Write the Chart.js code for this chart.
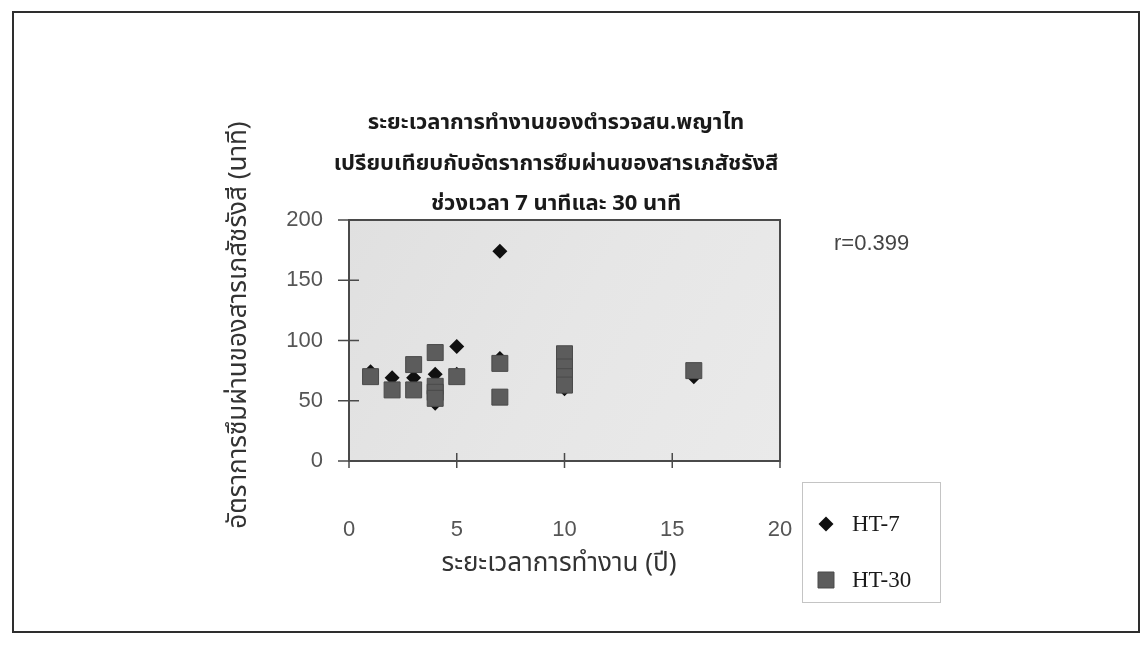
<!DOCTYPE html>
<html><head><meta charset="utf-8">
<script src="https://cdn.jsdelivr.net/npm/chart.js@4.4.1/dist/chart.umd.min.js"></script>
<style>html,body{margin:0;padding:0;background:#fff;overflow:hidden}canvas{display:block}</style>
</head><body>
<canvas id="c" width="1143" height="647"></canvas>
<script>
// Chart text
const titleLines = [
  'ระยะเวลาการทำงานของตำรวจสน.พญาไท',
  'เปรียบเทียบกับอัตราการซึมผ่านของสารเภสัชรังสี',
  'ช่วงเวลา 7 นาทีและ 30 นาที'
];
const xTitle = 'ระยะเวลาการทำงาน (ปี)';
const yTitle = 'อัตราการซึมผ่านของสารเภสัชรังสี (นาที)';
const rLabel = 'r=0.399';
const seriesNames = ['HT-7', 'HT-30'];

// Years of service vs. transit time (minutes)
const ht7Years   = [1, 2, 3, 4, 4, 5, 5, 7, 7, 10, 16];
const ht7Minutes = [74, 69, 69, 72, 48, 95, 72, 174, 85, 60, 70];
const ht30Years   = [1, 2, 3, 3, 4, 4, 4, 4, 5, 7, 7, 10, 10, 10, 10, 16];
const ht30Minutes = [70, 59, 80, 59, 90, 62, 57, 52, 70, 81, 53, 89, 78, 70, 63, 75];

// Axis ticks
const xTicks = [0, 5, 10, 15, 20];
const yTicks = [0, 50, 100, 150, 200];

const THAI = '"Noto Sans Thai", "Noto Serif Thai", "Garuda", "Loma", "Norasi", "Tlwg Typo", "DejaVu Sans", "Noto Sans", sans-serif';
const SANS = '"Liberation Sans", Arial, sans-serif';
const SERIF = '"Liberation Serif", "Times New Roman", serif';

const toPoints = (xs, ys) => xs.map((x, i) => ({ x, y: ys[i] }));

function marker(ctx, ds, x, y) {
  ctx.save();
  ctx.fillStyle = ds.backgroundColor;
  ctx.strokeStyle = ds.borderColor;
  ctx.lineWidth = ds.borderWidth;
  ctx.beginPath();
  const r = ds.pointRadius;
  if (ds.pointStyle === 'rectRot') {
    ctx.moveTo(x - r, y); ctx.lineTo(x, y - r); ctx.lineTo(x + r, y); ctx.lineTo(x, y + r);
  } else {
    const h = r * Math.SQRT1_2;
    ctx.rect(x - h, y - h, 2 * h, 2 * h);
  }
  ctx.closePath();
  ctx.fill();
  if (ds.borderWidth) ctx.stroke();
  ctx.restore();
}

const decor = {
  id: 'decor',
  beforeDraw(chart) {
    const { ctx, width, height } = chart;
    ctx.save();
    ctx.fillStyle = '#ffffff';
    ctx.fillRect(0, 0, width, height);
    ctx.strokeStyle = '#2e2e2e';
    ctx.lineWidth = 2;
    ctx.strokeRect(13, 12, 1126, 620);
    ctx.restore();
  },
  beforeDatasetsDraw(chart) {
    const { ctx, chartArea: a, scales } = chart;
    ctx.save();
    const g = ctx.createLinearGradient(a.left, a.top, a.right, a.bottom);
    g.addColorStop(0, '#e0e0e0');
    g.addColorStop(0.5, '#e6e6e6');
    g.addColorStop(1, '#eaeaea');
    ctx.fillStyle = g;
    ctx.fillRect(a.left, a.top, a.right - a.left, a.bottom - a.top);
    ctx.strokeStyle = '#4a4a4a';
    ctx.lineWidth = 2;
    ctx.strokeRect(a.left, a.top, a.right - a.left, a.bottom - a.top);
    ctx.lineWidth = 1.5;
    ctx.beginPath();
    scales.y.ticks.forEach(t => {
      const py = scales.y.getPixelForValue(t.value);
      ctx.moveTo(a.left - 11, py); ctx.lineTo(a.left + 10, py);
    });
    scales.x.ticks.forEach(t => {
      const px = scales.x.getPixelForValue(t.value);
      ctx.moveTo(px, a.bottom - 8); ctx.lineTo(px, a.bottom + 7);
    });
    ctx.stroke();
    ctx.restore();
  },
  afterDraw(chart) {
    const { ctx } = chart;
    ctx.save();
    ctx.fillStyle = '#1a1a1a';
    ctx.textAlign = 'center';
    ctx.textBaseline = 'middle';
    ctx.font = 'bold 22px ' + THAI;
    titleLines.forEach((t, i) => ctx.fillText(t, 556, 125 + i * 40.5));

    ctx.font = '26px ' + THAI;
    ctx.fillStyle = '#333';
    ctx.fillText(xTitle, 559, 566);
    ctx.save();
    ctx.translate(241, 325);
    ctx.rotate(-Math.PI / 2);
    ctx.fillText(yTitle, 0, 0);
    ctx.restore();

    ctx.font = '22px ' + SANS;
    ctx.fillStyle = '#444';
    ctx.textAlign = 'left';
    ctx.fillText(rLabel, 834, 244);

    // legend box
    ctx.strokeStyle = '#c4c4c4';
    ctx.lineWidth = 1;
    ctx.strokeRect(802.5, 482.5, 138, 120);
    ctx.font = '23px ' + SERIF;
    ctx.fillStyle = '#1a1a1a';
    const rows = [524, 580];
    chart.data.datasets.forEach((ds, i) => {
      marker(ctx, ds, 826, rows[i]);
      ctx.fillText(ds.label, 852, rows[i] + 1);
    });
    ctx.restore();
  }
};

new Chart(document.getElementById('c'), {
  type: 'scatter',
  data: {
    datasets: [
      {
        label: seriesNames[0],
        data: toPoints(ht7Years, ht7Minutes),
        pointStyle: 'rectRot',
        pointRadius: 7.5,
        backgroundColor: '#101010',
        borderColor: '#101010',
        borderWidth: 0,
        order: 2
      },
      {
        label: seriesNames[1],
        data: toPoints(ht30Years, ht30Minutes),
        pointStyle: 'rect',
        pointRadius: 11.3,
        backgroundColor: '#5c5c5c',
        borderColor: '#4a4a4a',
        borderWidth: 1,
        order: 1
      }
    ]
  },
  options: {
    responsive: false,
    animation: false,
    devicePixelRatio: 1,
    layout: { padding: { left: 0, top: 220, right: 363, bottom: 0 } },
    plugins: { legend: { display: false }, title: { display: false }, tooltip: { enabled: false } },
    scales: {
      x: {
        type: 'linear', min: 0, max: 20,
        afterBuildTicks: s => { s.ticks = xTicks.map(v => ({ value: v })); },
        afterFit: s => { s.height = 186; },
        grid: { display: false, drawTicks: false },
        border: { display: false },
        ticks: { font: { family: SANS, size: 22 }, color: '#555', padding: 56 }
      },
      y: {
        type: 'linear', min: 0, max: 200,
        afterBuildTicks: s => { s.ticks = yTicks.map(v => ({ value: v })); },
        afterFit: s => { s.width = 349; },
        grid: { display: false, drawTicks: false },
        border: { display: false },
        ticks: { font: { family: SANS, size: 22 }, color: '#555', padding: 26 }
      }
    }
  },
  plugins: [decor]
});
</script>
</body></html>
